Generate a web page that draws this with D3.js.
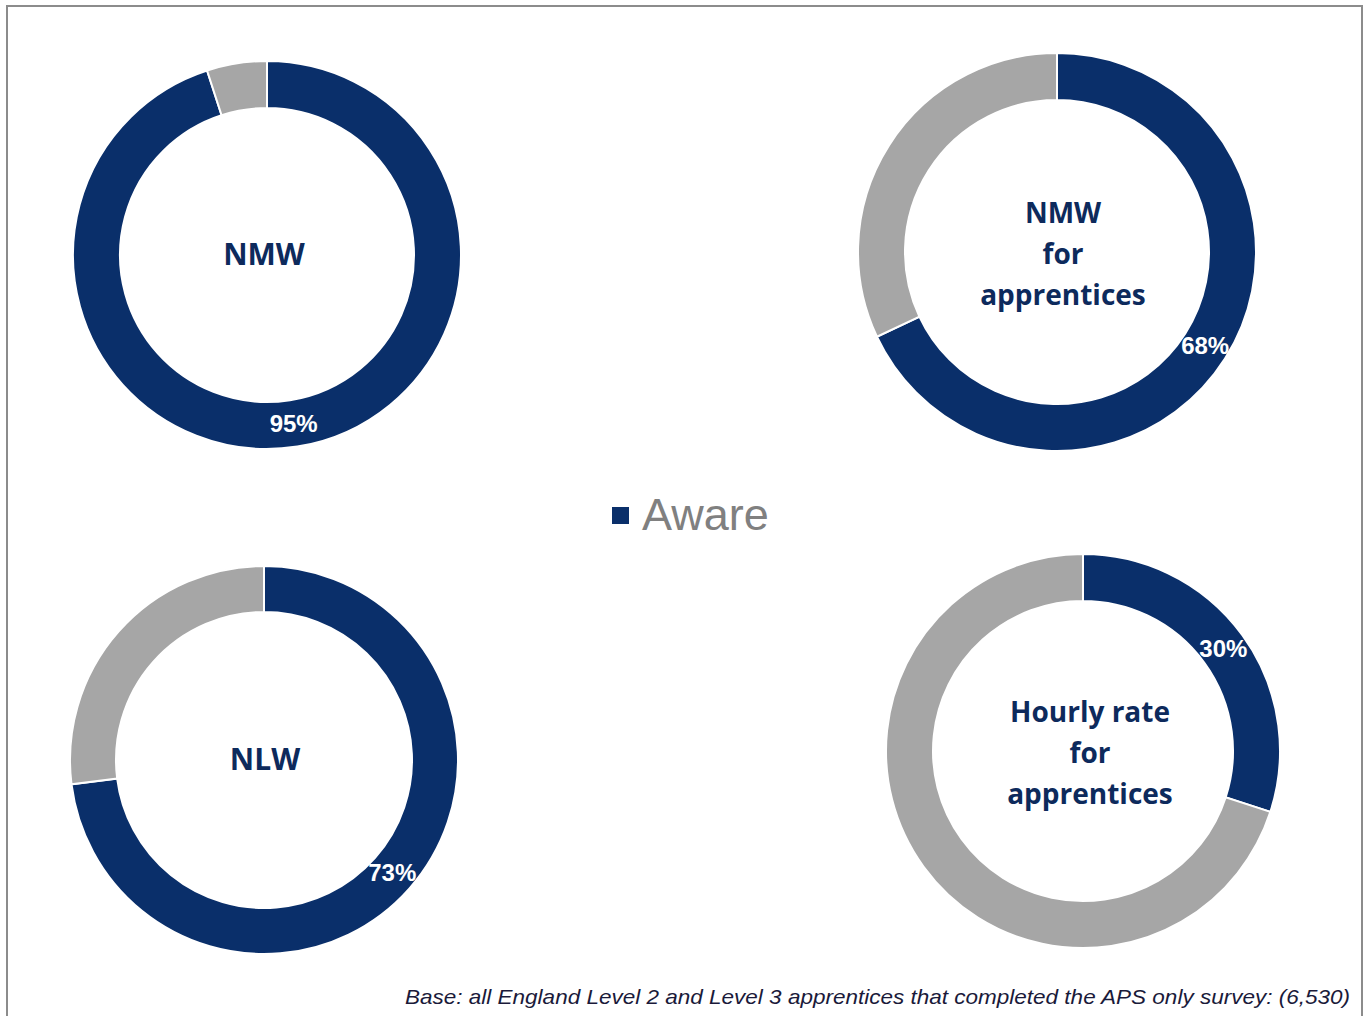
<!DOCTYPE html>
<html>
<head>
<meta charset="utf-8">
<script src="https://d3js.org/d3.v7.min.js"></script>
<style>
  body { margin: 0; background: #fff; }
</style>
</head>
<body>
<div id="chart"></div>
<script>
// awareness share per measure (percent aware)
var measures = [["NMW"], ["NMW", "for", "apprentices"], ["NLW"], ["Hourly rate", "for", "apprentices"]];
var aware = [95, 68, 73, 30];
var legendLabel = "Aware";
var baseNote = "Base: all England Level 2 and Level 3 apprentices that completed the APS only survey: (6,530)";

var width = 1369, height = 1016;
var navy = "#0a2f6a", grey = "#a6a6a6";

// where each donut sits on the page
var donuts = [
  { cx: 267, cy: 255, r: 194, ir: 147, tx: 264 },
  { cx: 1057, cy: 252, r: 199, ir: 152, tx: 1063 },
  { cx: 264, cy: 760, r: 194, ir: 148, tx: 265 },
  { cx: 1083, cy: 751, r: 197, ir: 150, tx: 1090 }
];

var svg = d3.select("#chart")
  .append("svg")
    .attr("width", width)
    .attr("height", height);

// frame
svg.append("path")
  .attr("d", "M7,1020 L7,6 L1362,6 L1362,1020")
  .attr("fill", "none")
  .attr("stroke", "#8c8c8c")
  .attr("stroke-width", 2);

var pie = d3.pie().sort(null).value(function(d) { return d; });

donuts.forEach(function(p, i) {
  var g = svg.append("g")
    .attr("transform", "translate(" + p.cx + "," + p.cy + ")");

  var arcs = pie([aware[i], 100 - aware[i]]);
  var arc = d3.arc().innerRadius(p.ir).outerRadius(p.r);

  g.selectAll("path")
    .data(arcs)
    .enter()
    .append("path")
      .attr("d", arc)
      .attr("fill", function(d, j) { return j === 0 ? navy : grey; })
      .attr("stroke", "#fff")
      .attr("stroke-width", 2);

  // percentage on the aware slice
  var mid = d3.arc().innerRadius((p.r + p.ir) / 2).outerRadius((p.r + p.ir) / 2);
  var c = mid.centroid(arcs[0]);
  g.append("text")
    .attr("x", c[0])
    .attr("y", c[1])
    .attr("dy", "0.35em")
    .attr("text-anchor", "middle")
    .style("font-family", "Liberation Sans, Arial, sans-serif")
    .style("font-weight", "bold")
    .style("font-size", "24px")
    .style("fill", "#fff")
    .text(aware[i] + "%");

  // centre label
  var lines = measures[i];
  var lh = 41;
  var t = svg.append("text")
    .attr("text-anchor", "middle")
    .style("font-family", "Open Sans, sans-serif")
    .style("font-weight", "bold")
    .style("font-size", lines.length > 1 ? "28px" : "30px")
    .style("fill", "#0d2a5c");
  lines.forEach(function(s, k) {
    t.append("tspan")
      .attr("x", p.tx)
      .attr("y", p.cy + (k - (lines.length - 1) / 2) * lh + (lines.length > 1 ? 2 : -1))
      .attr("dy", "0.35em")
      .text(s);
  });
});

// legend
svg.append("rect")
  .attr("x", 612)
  .attr("y", 507)
  .attr("width", 17)
  .attr("height", 17)
  .attr("fill", navy);
svg.append("text")
  .attr("x", 642)
  .attr("y", 530)
  .style("font-family", "Liberation Sans, Arial, sans-serif")
  .style("font-size", "45px")
  .style("fill", "#808080")
  .text(legendLabel);

// base note
svg.append("text")
  .attr("x", 1350)
  .attr("y", 1004)
  .attr("text-anchor", "end")
  .attr("textLength", 945)
  .attr("lengthAdjust", "spacingAndGlyphs")
  .style("font-family", "Liberation Sans, Arial, sans-serif")
  .style("font-style", "italic")
  .style("font-size", "21px")
  .style("fill", "#1a1a3a")
  .text(baseNote);
</script>
</body>
</html>
